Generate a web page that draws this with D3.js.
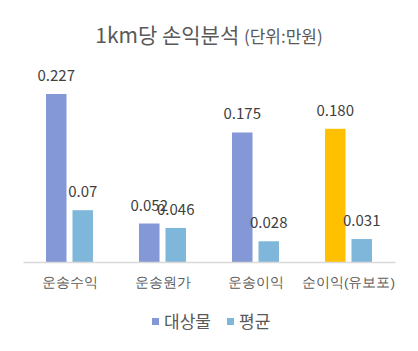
<!DOCTYPE html>
<html>
<head>
<meta charset="utf-8">
<script src="https://cdn.jsdelivr.net/npm/d3@7"></script>
<style>
body { margin: 0; background: #fff; }
svg { display: block; font-family: "Noto Sans CJK KR", "Noto Sans", sans-serif; }
.label-text { fill: #404040; font-size: 15px; }
.cat-text { fill: #595959; font-size: 13.5px; }
.legend-text { fill: #595959; font-size: 17px; }
</style>
</head>
<body>
<script>
var categories = ["운송수익", "운송원가", "운송이익", "순이익(유보포)"];
var seriesNames = ["대상물", "평균"];
var targetValues = [0.227, 0.052, 0.175, 0.180];
var averageValues = [0.07, 0.046, 0.028, 0.031];
var targetLabels = ["0.227", "0.052", "0.175", "0.180"];
var averageLabels = ["0.07", "0.046", "0.028", "0.031"];

var colors = { "대상물": "#8497d6", "평균": "#7fb7db" };
var highlight = "#ffc000";

var width = 418, height = 351;
var plot = { left: 23, right: 395, top: 60, bottom: 262 };

var dataset = categories.map(function(c, i) {
    return {
        category: c,
        values: [
            { name: "대상물", value: targetValues[i], label: targetLabels[i], color: i === 3 ? highlight : colors["대상물"] },
            { name: "평균", value: averageValues[i], label: averageLabels[i], color: colors["평균"] }
        ]
    };
});

var svg = d3.select("body").append("svg")
    .attr("width", width)
    .attr("height", height);

var x0 = d3.scaleBand()
    .domain(categories)
    .range([plot.left, plot.right])
    .paddingInner(0.495)
    .paddingOuter(0.2475);

var x1 = d3.scaleBand()
    .domain(seriesNames)
    .range([0, x0.bandwidth()])
    .paddingInner(0.226);

var y = d3.scaleLinear()
    .domain([0, 0.227])
    .range([plot.bottom, plot.bottom - 168]);

// title
var title = svg.append("text")
    .attr("x", 209)
    .attr("y", 43)
    .attr("text-anchor", "middle")
    .attr("fill", "#595959");
title.append("tspan").style("font-size", "21px").text("1km당 손익분석 ");
title.append("tspan").style("font-size", "17px").text("(단위:만원)");

var groups = svg.selectAll(".group")
    .data(dataset)
    .enter()
    .append("g")
    .attr("transform", function(d) { return "translate(" + x0(d.category) + ",0)"; });

groups.selectAll("rect")
    .data(function(d) { return d.values; })
    .enter()
    .append("rect")
    .attr("x", function(d) { return x1(d.name); })
    .attr("y", function(d) { return y(d.value); })
    .attr("width", x1.bandwidth())
    .attr("height", function(d) { return y(0) - y(d.value); })
    .attr("fill", function(d) { return d.color; });

groups.selectAll(".label-text")
    .data(function(d) { return d.values; })
    .enter()
    .append("text")
    .attr("class", "label-text")
    .attr("text-anchor", "middle")
    .attr("x", function(d) { return x1(d.name) + x1.bandwidth() / 2; })
    .attr("y", function(d) { return y(d.value) - 13; })
    .text(function(d) { return d.label; });

// axis
svg.append("g")
    .attr("transform", "translate(0," + plot.bottom + ")")
    .call(d3.axisBottom(x0).tickSize(0).tickPadding(15))
    .call(function(g) {
        g.select(".domain").attr("stroke", "#d9d9d9").attr("stroke-width", 1.5);
        g.selectAll("text").attr("class", "cat-text").attr("fill", null)
            .style("font-family", "inherit");
    });

// legend
var legendX = [152, 227];
var legend = svg.selectAll(".legend")
    .data(seriesNames)
    .enter()
    .append("g")
    .attr("transform", function(d, i) { return "translate(" + legendX[i] + ",318)"; });

legend.append("rect")
    .attr("width", 7)
    .attr("height", 7)
    .attr("fill", function(d) { return colors[d]; });

legend.append("text")
    .attr("class", "legend-text")
    .attr("x", 12)
    .attr("y", 9.5)
    .text(function(d) { return d; });
</script>
</body>
</html>
